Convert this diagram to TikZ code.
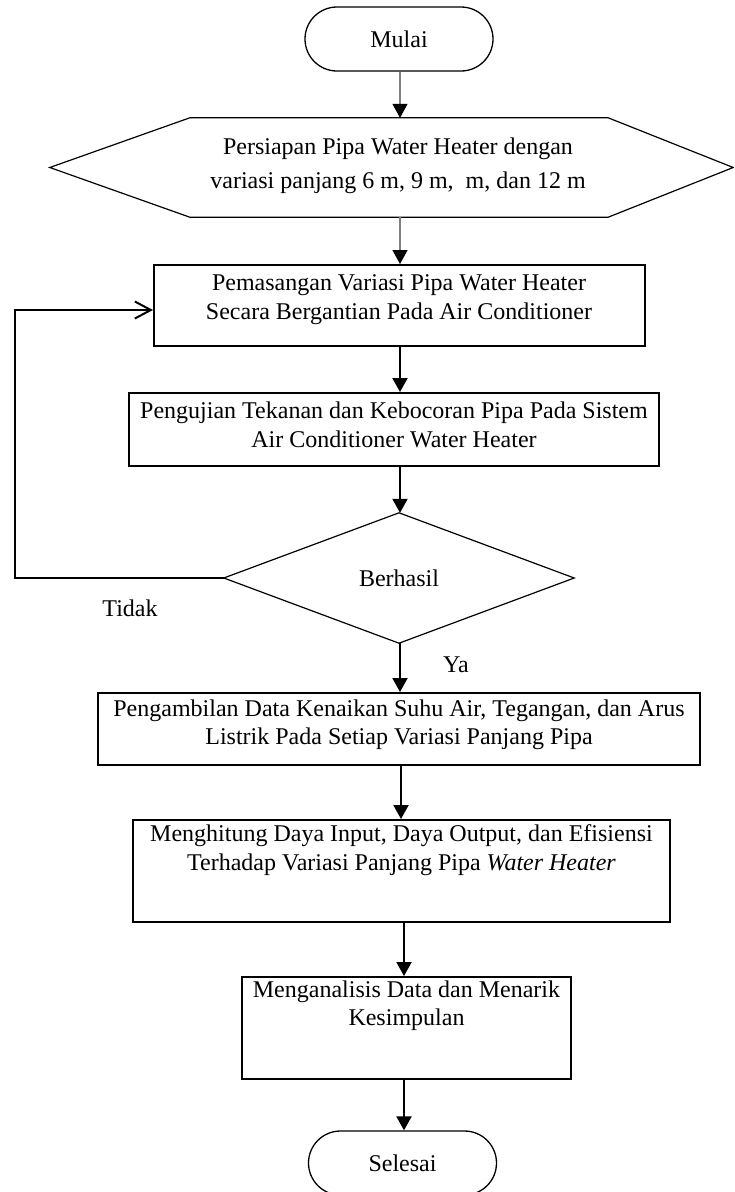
\documentclass[tikz,border=0pt]{standalone}
\usepackage{fontspec}
\setmainfont{Liberation Serif}
\usetikzlibrary{arrows.meta,calc}
\begin{document}
\begin{tikzpicture}[x=1pt,y=-1pt,
  font=\fontsize{24}{28}\selectfont,
  box/.style={draw,line width=2pt,inner sep=0pt},
  term/.style={draw,line width=1.3pt,rounded corners=32pt,inner sep=0pt,minimum width=188pt,minimum height=64pt},
  shp/.style={line width=1.2pt},
  txt/.style={align=center,inner sep=0pt,anchor=north},
  lbl/.style={inner sep=0pt,anchor=base},
  arr/.style={line width=2pt,-{Triangle[length=14pt,width=15pt]}},
  garr/.style={line width=1.5pt,draw=gray,-{Triangle[length=14pt,width=15pt,color=black]}},
  barb/.style={line width=2pt,-{Straight Barb[length=16pt,width=17pt]}},
]
\useasboundingbox (0,0) rectangle (734,1192);
\clip (0,0) rectangle (734,1192);

% start
\node[term] (start) at (399,39) {Mulai};

% hexagon
\node[inner sep=0pt,minimum width=418pt,minimum height=99pt] (hex) at (399,167.5) {};
\draw[shp] (hex.north west) -- (hex.north east) -- ($(hex.east)+(125,0)$) -- (hex.south east)
  -- (hex.south west) -- ($(hex.west)+(-140,0)$) -- cycle;
\node[txt,font=\fontsize{24}{34}\selectfont] (thex) at (398,154-23.8)
  {\strut Persiapan Pipa Water Heater dengan\\ \strut variasi panjang 6 m, 9 m, \ m, dan 12 m};

% box 1
\node[box,minimum width=491pt,minimum height=81pt] (b1) at (399.5,305.5) {};
\node[txt,font=\fontsize{24}{29}\selectfont] (t1) at (399,290-20.3)
  {\strut Pemasangan Variasi Pipa Water Heater\\ \strut Secara Bergantian Pada Air Conditioner};

% box 2
\node[box,minimum width=530pt,minimum height=73pt] (b2) at (394,429.5) {};
\node[txt,font=\fontsize{24}{29}\selectfont] (t2) at (394,418-20.3)
  {\strut Pengujian Tekanan dan Kebocoran Pipa Pada Sistem\\ \strut Air Conditioner Water Heater};

% decision
\node[inner sep=0pt,minimum width=350pt,minimum height=130pt] (dia) at (399,578) {Berhasil};
\draw[shp] (dia.north) -- (dia.east) -- (dia.south) -- (dia.west) -- cycle;

% box 3
\node[box,minimum width=602pt,minimum height=72pt] (b3) at (399,729) {};
\node[txt] (t3) at (399,716-19.6)
  {\strut Pengambilan Data Kenaikan Suhu Air, Tegangan, dan Arus\\ \strut Listrik Pada Setiap Variasi Panjang Pipa};

% box 4
\node[box,minimum width=537pt,minimum height=102pt] (b4) at (401.5,871) {};
\node[txt,font=\fontsize{24}{29}\selectfont] (t4) at (401.5,841-20.3)
  {\strut Menghitung Daya Input, Daya Output, dan Efisiensi\\ \strut Terhadap Variasi Panjang Pipa \textit{Water Heater}};

% box 5
\node[box,minimum width=329pt,minimum height=102pt] (b5) at (406.5,1028) {};
\node[txt] (t5) at (406.5,997-19.6)
  {\strut Menganalisis Data dan Menarik\\ \strut Kesimpulan};

% end
\node[term] (stop) at (402.5,1163) {Selesai};

% labels
\node[lbl] (tidak) at (130,616) {Tidak};
\node[lbl] (ya) at (456,672) {Ya};

% connectors
\draw[garr] (start.south -| 400,0) -- (hex.north -| 400,0);
\draw[garr] (hex.south -| 400,0) -- (b1.north -| 400,0);
\draw[arr] (b1.south -| 400,0) -- (b2.north -| 400,0);
\draw[arr] (b2.south -| 400,0) -- (dia.north -| 400,0);
\draw[arr] (dia.south -| 400,0) -- (b3.north -| 400,0);
\draw[arr] (b3.south -| 401,0) -- (b4.north -| 401,0);
\draw[arr] (b4.south -| 404,0) -- (b5.north -| 404,0);
\draw[arr] (b5.south -| 404,0) -- (stop.north -| 404,0);
\draw[barb] (dia.west) -- ++(-209,0) |- ([yshift=-4.5pt]b1.west);
\end{tikzpicture}
\end{document}
